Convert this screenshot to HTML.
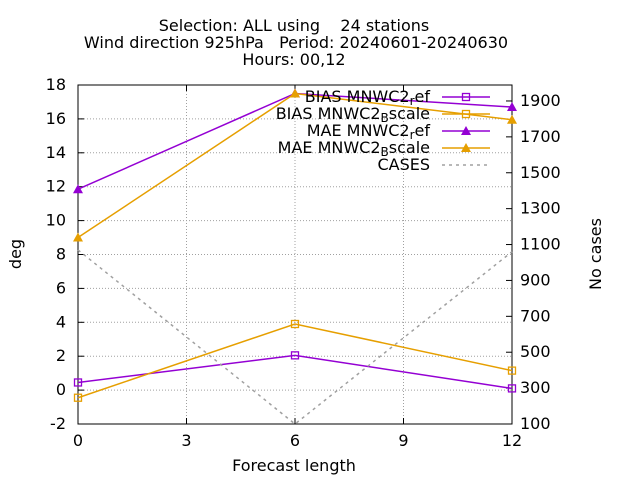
<!DOCTYPE html>
<html><head><meta charset="utf-8"><style>
body{margin:0;background:#fff}
svg text{font-family:"DejaVu Sans",sans-serif;font-size:16px;fill:#000;white-space:pre}
</style></head><body>
<svg id="chart" width="640" height="480">
<g>
<text x="294" y="31" text-anchor="middle" xml:space="preserve">Selection: ALL using    24 stations</text>
<text x="296" y="48" text-anchor="middle" xml:space="preserve">Wind direction 925hPa   Period: 20240601-20240630</text>
<text x="294" y="65" text-anchor="middle">Hours: 00,12</text>
</g>
<g id="grid"></g>
<g id="axes"></g>
<g id="series"></g>
<g id="legend"></g>
<text x="21" y="254" text-anchor="middle" transform="rotate(-90 21 254)">deg</text>
<text x="601" y="254" text-anchor="middle" transform="rotate(-90 601 254)">No cases</text>
<text x="294" y="471" text-anchor="middle">Forecast length</text>
</svg>
<script>
const xCats=[0,6,12];
const xTicks=[0,3,6,9,12];
const yTicks=[-2,0,2,4,6,8,10,12,14,16,18];
const y2Ticks=[100,300,500,700,900,1100,1300,1500,1700,1900];
const biasRef=[0.45,2.05,0.1];
const biasBscale=[-0.45,3.9,1.15];
const maeRef=[11.85,17.5,16.7];
const maeBscale=[9.0,17.5,15.95];
const cases=[1070,100,1060];
const L=78,R=512,T=85,B=424;
const NS="http://www.w3.org/2000/svg";
const X=v=>L+(v-0)/(12-0)*(R-L);
const Y=v=>B-(v+2)/20*(B-T);
const Y2=v=>B-(v-100)/(1989-100)*(B-T);
function mk(tag,attrs,parent){const e=document.createElementNS(NS,tag);for(const k in attrs)e.setAttribute(k,attrs[k]);parent.appendChild(e);return e;}
const grid=document.getElementById('grid'),axes=document.getElementById('axes'),ser=document.getElementById('series'),leg=document.getElementById('legend');
xTicks.forEach(t=>{const x=X(t);
 if(t>0&&t<12){const g=mk('line',{x1:x,x2:x,y1:T,y2:B,stroke:'#a0a0a0','stroke-width':1,'stroke-dasharray':'1,2'},grid);}
 mk('line',{x1:x,x2:x,y1:B,y2:B-6,stroke:'#000'},axes);mk('line',{x1:x,x2:x,y1:T,y2:T+6,stroke:'#000'},axes);
 const tx=mk('text',{x:x,y:B+22,'text-anchor':'middle'},axes);tx.textContent=t;
 });
yTicks.forEach(t=>{const y=Y(t);
 if(t>-2&&t<18){const g=mk('line',{x1:L,x2:R,y1:y,y2:y,stroke:'#a0a0a0','stroke-width':1,'stroke-dasharray':'1,2'},grid);}
 mk('line',{x1:L,x2:L+6,y1:y,y2:y,stroke:'#000'},axes);
 const tx=mk('text',{x:L-12,y:y+5,'text-anchor':'end'},axes);tx.textContent=t;
 });
y2Ticks.forEach(t=>{const y=Y2(t);
 mk('line',{x1:R,x2:R-6,y1:y,y2:y,stroke:'#000'},axes);
 const tx=mk('text',{x:R+8,y:y+5,'text-anchor':'start'},axes);tx.textContent=t;
 });
const fr=mk('rect',{x:L,y:T,width:R-L,height:B-T,fill:'none',stroke:'#000'},axes);

function marker(type,x,y,c,p){
 if(type==='sq')return mk('rect',{x:x-3.5,y:y-3.5,width:7,height:7,fill:'none',stroke:c,'stroke-width':1.3},p);
 return mk('path',{d:`M${x},${y-5}L${x+5},${y+4}L${x-5},${y+4}Z`,fill:c},p);}
const seriesDefs=[
 {name:'BIAS MNWC2_ref',vals:biasRef,c:'#9400d3',m:'sq',ax:Y,lab:'BIAS MNWC2<tspan dy="3" font-size="12">r</tspan><tspan dy="-3">ef</tspan>',dash:null},
 {name:'BIAS MNWC2_Bscale',vals:biasBscale,c:'#e69f00',m:'sq',ax:Y,lab:'BIAS MNWC2<tspan dy="3" font-size="12">B</tspan><tspan dy="-3">scale</tspan>',dash:null},
 {name:'MAE MNWC2_ref',vals:maeRef,c:'#9400d3',m:'tri',ax:Y,lab:'MAE MNWC2<tspan dy="3" font-size="12">r</tspan><tspan dy="-3">ef</tspan>',dash:null},
 {name:'MAE MNWC2_Bscale',vals:maeBscale,c:'#e69f00',m:'tri',ax:Y,lab:'MAE MNWC2<tspan dy="3" font-size="12">B</tspan><tspan dy="-3">scale</tspan>',dash:null},
 {name:'CASES',vals:cases,c:'#a0a0a0',m:null,ax:Y2,lab:'CASES',dash:'3,4'}];
seriesDefs.forEach((s,i)=>{
 const g=mk('g',{},ser);
 
 
 const pts=s.vals.map((v,j)=>X(xCats[j])+','+s.ax(v)).join(' ');
 const pl=mk('polyline',{points:pts,fill:'none',stroke:s.c,'stroke-width':1.5},g);
 if(s.dash)pl.setAttribute('stroke-dasharray',s.dash);
 if(s.m)s.vals.forEach((v,j)=>marker(s.m,X(xCats[j]),s.ax(v),s.c,g));
 const ly=97+i*17;
 const lg=mk('g',{},leg);
 
 
 const t=mk('text',{x:430,y:ly+5,'text-anchor':'end'},lg);t.innerHTML=s.lab;
 const ll=mk('line',{x1:442,x2:490,y1:ly,y2:ly,stroke:s.c,'stroke-width':1.5},lg);
 if(s.dash)ll.setAttribute('stroke-dasharray',s.dash);
 if(s.m)marker(s.m,466,ly,s.c,lg);
});
</script>
</body></html>
